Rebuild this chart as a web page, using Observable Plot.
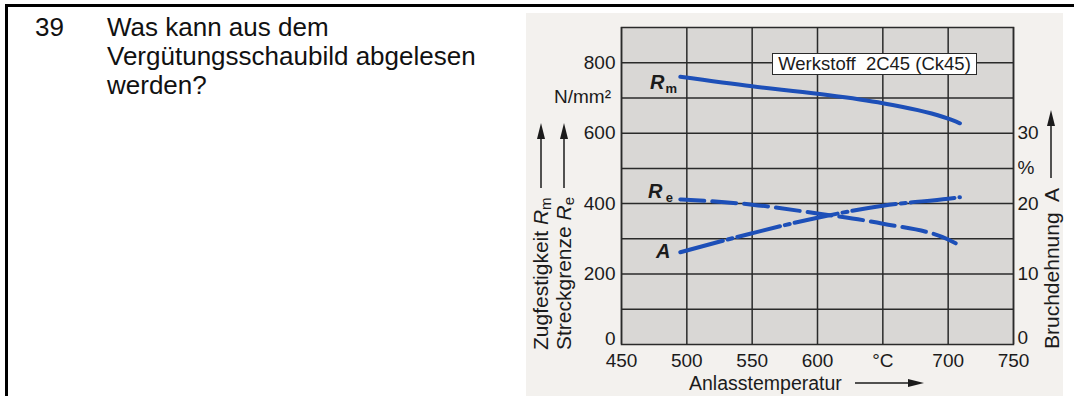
<!DOCTYPE html>
<html><head><meta charset="utf-8">
<script src="https://cdn.jsdelivr.net/npm/d3@7"></script>
<script src="https://cdn.jsdelivr.net/npm/@observablehq/plot@0.6"></script>
<style>
html,body{margin:0;padding:0;background:#fff;}
#wrap{position:relative;width:1074px;height:396px;overflow:hidden;font-family:"Liberation Sans",Arial,sans-serif;color:#111;}
#border{position:absolute;left:5px;top:4px;width:1100px;height:420px;border-top:3px solid #000;border-left:3px solid #000;}
#num{position:absolute;left:35px;top:13px;font-size:26px;line-height:29px;}
#q{position:absolute;left:107px;top:13px;font-size:26px;line-height:29px;}
#scan{position:absolute;left:526px;top:13px;width:537px;height:383px;background:#f3f1ee;}
#chart{position:absolute;left:0;top:0;}
.ov{position:absolute;white-space:nowrap;color:#1b1b1b;}
.rot{transform:rotate(-90deg);transform-origin:0 0;font-size:21px;line-height:22px;height:22px;}
.rot sub{font-size:15px;vertical-align:-3px;}
#legend{position:absolute;left:772px;top:53px;width:203px;height:20px;border:1.5px solid #2a2a2a;background:#fff;font-size:18.5px;line-height:20px;text-align:center;color:#1b1b1b;}
#unit{position:absolute;right:calc(1074px - 611px);top:86px;font-size:19px;line-height:22px;}
#xlab{position:absolute;left:689px;top:372px;font-size:19.5px;line-height:22px;}
#arrows{position:absolute;left:0;top:0;}
</style></head><body>
<div id="wrap">
  <div id="border"></div>
  <div id="num">39</div>
  <div id="q">Was kann aus dem<br>Vergütungsschaubild abgelesen<br>werden?</div>
  <div id="scan"></div>
  <div id="chart"></div>
  <div id="legend">Werkstoff&nbsp; 2C45 (Ck45)</div>
  <div class="ov" id="unit">N/mm²</div>
  <div class="ov rot" style="left:530px;top:350px;">Zugfestigkeit <i>R</i><sub>m</sub></div>
  <div class="ov rot" style="left:553px;top:350px;">Streckgrenze <i>R</i><sub>e</sub></div>
  <div class="ov rot" style="left:1041px;top:349px;">Bruchdehnung&nbsp; A</div>
  <div class="ov" id="xlab">Anlasstemperatur</div>
  <svg id="arrows" width="1074" height="396">
    <g stroke="#1b1b1b" stroke-width="1.5" fill="#1b1b1b">
      <line x1="541" y1="188" x2="541" y2="136"/><polygon points="541,123 537,139 545,139" stroke="none"/>
      <line x1="564" y1="188" x2="564" y2="136"/><polygon points="564,123 560,139 568,139" stroke="none"/>
      <line x1="1051" y1="178" x2="1051" y2="122"/><polygon points="1051,110 1047,126 1055,126" stroke="none"/>
      <line x1="855" y1="383" x2="912" y2="383"/><polygon points="924,383 908,379 908,387" stroke="none"/>
    </g>
  </svg>
</div>
<script>
// ---- data ----
const temps = [495, 550, 600, 650, 700, 709];          // Anlasstemperatur (°C)
const rm    = [760, 733, 712, 685, 641, 628];          // Zugfestigkeit Rm (N/mm²)
const re    = [412, 397, 372, 343, 298, 281];          // Streckgrenze Re (N/mm²)
const aPct  = [13.1, 15.8, 18.0, 19.7, 20.7, 20.9];    // Bruchdehnung A (%)
const aFactor = 20;                                     // right axis: 20 N/mm² per 1 %
const xTicks = [450, 500, 550, 600, 650, 700, 750];
const xTickLabels = ["450", "500", "550", "600", "°C", "700", "750"];
const yTicks = [200, 400, 600, 800];
const yGrid = [100, 200, 300, 400, 500, 600, 700, 800];
const rightTicks = [10, 20, 25, 30];
const rightLabels = ["10", "20", "%", "30"];
const zeroLabel = [0];

const rmData = temps.map((t, i) => ({t, v: rm[i]}));
const reData = temps.map((t, i) => ({t, v: re[i]}));
const aData  = temps.map((t, i) => ({t, v: aPct[i] * aFactor}));

const blue = "#1d4fb8";
const ink = "#2a2a2a";
const txt = "#1b1b1b";

const chart = Plot.plot({
  width: 1074, height: 396,
  marginLeft: 621, marginRight: 61, marginTop: 27, marginBottom: 52,
  x: {domain: [450, 750]},
  y: {domain: [0, 900]},
  style: {fontFamily: "Liberation Sans, Arial, sans-serif", fontSize: "19px", color: txt, background: "transparent", overflow: "visible"},
  marks: [
    Plot.frame({fill: "#d9d7d5"}),
    Plot.ruleX(xTicks, {stroke: ink, strokeWidth: 1.5}),
    Plot.ruleY(yGrid, {stroke: ink, strokeWidth: 1.5}),
    Plot.frame({stroke: ink, strokeWidth: 1.5}),
    Plot.axisX(xTicks, {tickSize: 0, tickPadding: 9, label: null, tickFormat: d => xTickLabels[xTicks.indexOf(d)]}),
    Plot.axisY(yTicks, {anchor: "left", tickSize: 0, tickPadding: 6, label: null}),
    Plot.axisY(rightTicks.map(d => d * aFactor), {anchor: "right", tickSize: 0, tickPadding: 4, label: null,
      tickFormat: d => rightLabels[rightTicks.indexOf(d / aFactor)]}),
    // the two zero labels sit a little above the bottom line
    Plot.text(zeroLabel, {x: 450, y: d => d, text: d => String(d), dx: -6, dy: -6, textAnchor: "end", fill: txt, fontSize: 19}),
    Plot.text(zeroLabel, {x: 750, y: d => d, text: d => String(d), dx: 4, dy: -7, textAnchor: "start", fill: txt, fontSize: 19}),
    Plot.line(rmData, {x: "t", y: "v", stroke: blue, strokeWidth: 4, curve: "monotone-x"}),
    Plot.line(reData, {x: "t", y: "v", stroke: blue, strokeWidth: 4, curve: "monotone-x", strokeDasharray: "24,8"}),
    Plot.line(aData, {x: "t", y: "v", stroke: blue, strokeWidth: 4, curve: "monotone-x", strokeDasharray: "44,5,5,5"}),
    // series labels
    Plot.text([rmData[0]], {x: "t", y: "v", text: () => "R", dx: -23, dy: 6, fontStyle: "italic", fontWeight: "bold", fontSize: 20, fill: txt}),
    Plot.text([rmData[0]], {x: "t", y: "v", text: () => "m", dx: -9, dy: 12, fontWeight: "bold", fontSize: 13, fill: txt}),
    Plot.text([reData[0]], {x: "t", y: "v", text: () => "R", dx: -25, dy: -8, fontStyle: "italic", fontWeight: "bold", fontSize: 20, fill: txt}),
    Plot.text([reData[0]], {x: "t", y: "v", text: () => "e", dx: -11, dy: -2, fontWeight: "bold", fontSize: 13, fill: txt}),
    Plot.text([aData[0]], {x: "t", y: "v", text: () => "A", dx: -17, dy: -1, fontStyle: "italic", fontWeight: "bold", fontSize: 20, fill: txt})
  ]
});
document.getElementById("chart").appendChild(chart);
</script>
</body></html>
